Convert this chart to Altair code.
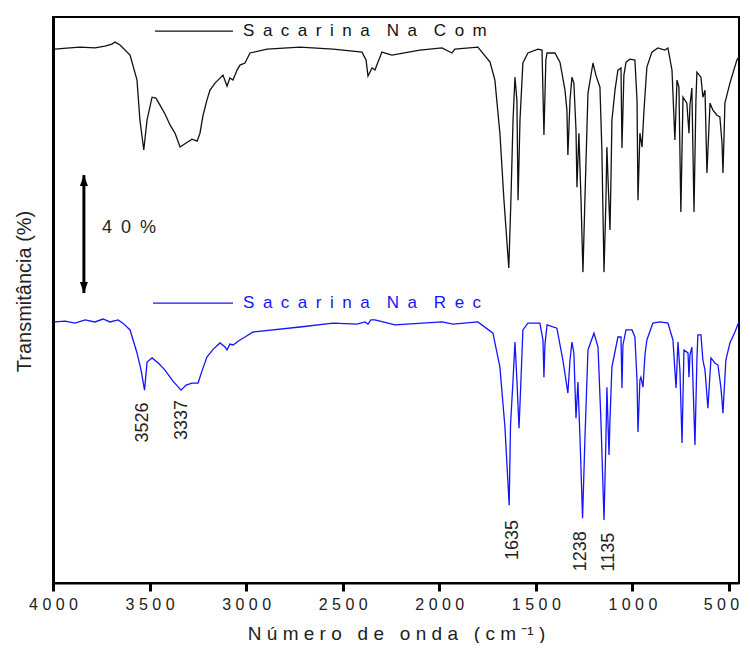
import altair as alt
import pandas as pd

# ---- Spectrum "Sacarina Na Com" (upper, black) : wavenumber (cm-1), offset transmittance (%)
com_wn = [3990, 3912, 3860, 3783, 3731, 3695, 3679, 3653, 3601, 3565, 3550, 3530, 3513, 3487,
          3467, 3446, 3420, 3394, 3368, 3342, 3311, 3280, 3254, 3239, 3223, 3203, 3187, 3161,
          3120, 3099, 3084, 3068, 3047,
          3032, 3006, 2980, 2892, 2721, 2550, 2400, 2379, 2369, 2348, 2333, 2297, 2245, 2100,
          1986, 1934, 1919, 1800, 1737, 1712, 1686, 1665, 1640, 1629, 1618, 1608, 1598, 1592,
          1582, 1567, 1541, 1489, 1468, 1458, 1448, 1442, 1401, 1375, 1349, 1339, 1334, 1323,
          1313, 1303, 1292, 1287, 1277, 1266, 1256, 1246, 1230, 1204, 1189, 1168, 1158, 1147,
          1137, 1132, 1126, 1116, 1111, 1106, 1090, 1075, 1059, 1054, 1044, 1033, 1013, 987,
          976, 971, 961, 950, 940, 925, 899, 868, 832, 816, 795, 780, 769, 759, 749, 738, 718,
          707, 702, 692, 681, 671, 666, 645, 635, 624, 614, 598, 583, 562, 547, 536, 531, 526,
          521, 495, 459, 449]
com_t = [181.0, 181.4, 181.7, 181.4, 182.0, 182.7, 183.4, 182.4, 179.0, 170.5, 157.0, 146.8,
         157.0, 164.7, 164.4, 162.0, 159.0, 155.3, 152.5, 147.8, 149.2, 150.5, 149.8, 152.5,
         158.6, 163.7, 167.1, 169.5, 172.2,
         168.5, 171.2, 170.5, 173.9, 175.6, 176.3, 179.7, 181.0, 181.7, 181.0, 180.0, 177.3,
         171.9, 174.6, 173.9, 180.0, 179.0, 180.7, 181.4, 179.7, 181.0, 181.7, 176.6, 170.5,
         152.5, 129.8, 106.8, 129.8, 157.0, 171.5, 163.7, 129.8, 157.0, 176.3, 179.7, 181.0,
         180.7, 151.9, 177.3, 179.7, 179.7, 176.6, 167.1, 160.3, 145.1, 163.7, 171.5, 169.5,
         153.6, 134.2, 152.5, 129.8, 105.4, 129.8, 166.1, 176.3, 172.2, 168.1, 146.8, 105.4,
         129.8, 147.8, 136.6, 119.7, 136.6, 157.0, 167.1, 173.9, 174.6, 147.5, 172.2, 176.6,
         177.6, 177.3, 163.7, 129.8, 152.5, 147.8, 160.3, 174.9, 180.0, 181.4, 180.7, 181.4,
         173.9, 150.2, 170.5, 168.1, 125.8, 164.7, 162.7, 152.5, 162.0, 167.8, 125.8, 163.7,
         173.2, 171.5, 164.7, 167.1, 139.0, 162.7, 160.3, 158.6, 158.0, 149.2, 139.0, 150.2,
         162.7, 169.5, 177.3, 178.3]

# ---- Spectrum "Sacarina Na Rec" (lower, blue)
rec_wn = [3990, 3938, 3886, 3834, 3783, 3741, 3705, 3663, 3638, 3601, 3565, 3544, 3526, 3513,
          3487, 3455, 3420, 3380, 3337, 3311, 3280, 3249, 3228, 3203, 3170, 3135, 3109, 3099,
          3084, 3068, 3032, 3006,
          2964, 2721, 2550, 2426, 2385, 2369, 2354, 2333, 2229, 1986, 1929, 1800, 1722, 1686,
          1660, 1638, 1631, 1618, 1608, 1598, 1587, 1577, 1567, 1541, 1479, 1463, 1458, 1453,
          1442, 1391, 1360, 1334, 1323, 1313, 1303, 1292, 1282, 1271, 1258, 1246, 1230, 1199,
          1178, 1163, 1147, 1137, 1132, 1121, 1116, 1106, 1075, 1059, 1054, 1049, 1033, 1002,
          987, 976, 971, 961, 956, 945, 935, 925, 894, 857, 816, 790, 774, 764, 754, 743, 733,
          712, 707, 702, 692, 676, 666, 661, 645, 635, 624, 609, 593, 573, 557, 542, 536, 531,
          526, 516, 495, 469, 449]
rec_t = [88.5, 88.8, 88.1, 89.2, 88.5, 89.5, 88.5, 89.2, 88.1, 85.8, 78.0, 72.2, 65.4, 74.9,
         76.3, 74.6, 72.2, 68.5, 65.4, 67.1, 67.8, 67.8, 72.0, 76.6, 79.3, 81.4, 80.0, 79.0,
         81.0, 80.7, 82.4, 83.4,
         85.1, 86.8, 88.1, 87.8, 88.5, 87.8, 89.2, 89.2, 87.5, 88.5, 87.8, 88.5, 84.7, 73.2,
         52.9, 26.4, 53.6, 68.8, 81.7, 68.8, 52.5, 68.8, 85.8, 88.1, 88.1, 82.4, 69.8, 80.7,
         87.5, 86.4, 75.6, 64.4, 75.6, 81.7, 78.0, 55.9, 68.1, 48.5, 22.0, 48.5, 79.0, 84.7,
         80.0, 55.3, 21.4, 48.5, 66.4, 43.4, 55.3, 73.2, 83.4, 83.4, 66.1, 80.7, 85.8, 85.8,
         83.4, 68.8, 51.2, 68.8, 69.8, 66.4, 77.3, 82.4, 88.1, 88.5, 88.1, 82.4, 66.1, 81.7,
         72.2, 47.5, 79.0, 78.0, 69.8, 77.3, 80.0, 46.8, 75.6, 84.1, 84.1, 75.6, 72.2, 59.3,
         76.3, 74.6, 73.9, 66.4, 62.0, 57.6, 63.7, 75.6, 81.4, 85.1, 88.5]

# ---- Peak annotations
peak_text = ["3526", "3337", "1635", "1238", "1135"]
peak_wn = [3534, 3332, 1618, 1265, 1121]
peak_t = [54.4, 55.3, 14.6, 10.8, 10.5]

# ---- In-plot legend
leg_names = ["Sacarina Na Com", "Sacarina Na Rec"]
leg_series = ["Com", "Rec"]
leg_t = [187.1, 94.9]
leg_wn_start = [3472, 3482]
leg_wn_end = [3068, 3068]
leg_text_wn = [3016, 3016]

# ---- 40 % scale arrow
arrow_wn = [3840]
arrow_lo = [98.3]
arrow_hi = [138.3]
arrow_label = ["40 %"]
arrow_label_wn = [3746]
arrow_label_t = [120.3]

x_ticks = [4000, 3500, 3000, 2500, 2000, 1500, 1000, 500]

FONT = "Liberation Sans"
NB = "\u00a0"
EN = "\u2002"


def spaced(s, gap, word_gap):
    return word_gap.join(gap.join(list(w)) for w in s.split(" "))


spectra = pd.concat([
    pd.DataFrame({"wn": com_wn, "T": com_t, "serie": "Com"}),
    pd.DataFrame({"wn": rec_wn, "T": rec_t, "serie": "Rec"}),
])
peaks = pd.DataFrame({"txt": peak_text, "wn": peak_wn, "T": peak_t})
legend = pd.DataFrame({
    "name": [spaced(n, EN, EN + EN) for n in leg_names],
    "serie": leg_series, "T": leg_t,
    "x1": leg_wn_start, "x2": leg_wn_end, "xt": leg_text_wn,
})
arrow = pd.DataFrame({"wn": arrow_wn, "lo": arrow_lo, "hi": arrow_hi,
                      "lab": [spaced(a, EN, EN) for a in arrow_label],
                      "lwn": arrow_label_wn, "lt": arrow_label_t})

xscale = alt.Scale(domain=[448, 4000], reverse=True, nice=False, zero=False)
yscale = alt.Scale(domain=[0, 191.9], nice=False, zero=False)
cscale = alt.Scale(domain=["Com", "Rec"], range=["#111111", "#1414ff"])

x_title = (NB.join(list("Número")) + NB * 3 + NB.join(list("de")) + NB * 3 +
           NB.join(list("onda")) + NB * 3 + NB.join(["(", "c", "m", "⁻¹", ")"]))

x_axis = alt.Axis(values=x_ticks, format="d",
                  labelExpr="join(split(datum.label, ''), '" + NB + "')",
                  labelFont=FONT, labelFontSize=16, labelColor="#222",
                  labelBaseline="middle", labelPadding=13, labelFlush=False,
                  labelOffset={"condition": {"test": "datum.value === 500", "value": -8},
                               "value": 0},
                  labelOverlap=False, tickSize=8, tickWidth=3, tickColor="#000",
                  domainColor="#000", domainWidth=2, grid=False,
                  title=x_title, titleFont=FONT, titleFontSize=19,
                  titleFontWeight="normal", titleColor="#222",
                  titleBaseline="middle", titleY=50)
y_axis = alt.Axis(labels=False, ticks=False, grid=False, domainColor="#000",
                  domainWidth=3, title="Transmitância (%)", titleFont=FONT,
                  titleFontSize=20, titleFontWeight="normal", titleColor="#222",
                  titleAngle=270, titleBaseline="middle", titleAlign="center",
                  titleX=-29, titleY=274)

lines = alt.Chart(spectra).mark_line(strokeWidth=1.3).encode(
    x=alt.X("wn:Q", scale=xscale, axis=x_axis),
    y=alt.Y("T:Q", scale=yscale, axis=y_axis),
    color=alt.Color("serie:N", scale=cscale, legend=None),
    order="wn:Q",
)

peak_labels = alt.Chart(peaks).mark_text(
    angle=270, font=FONT, fontSize=18, color="#222", align="center", baseline="middle"
).encode(x=alt.X("wn:Q", scale=xscale), y=alt.Y("T:Q", scale=yscale), text="txt:N")

leg_lines = alt.Chart(legend).mark_rule(strokeWidth=1.3).encode(
    x=alt.X("x1:Q", scale=xscale), x2="x2:Q", y=alt.Y("T:Q", scale=yscale),
    color=alt.Color("serie:N", scale=cscale, legend=None),
)
leg_text = alt.Chart(legend).mark_text(
    font=FONT, fontSize=17, align="left", baseline="middle"
).encode(
    x=alt.X("xt:Q", scale=xscale), y=alt.Y("T:Q", scale=yscale), text="name:N",
    color=alt.Color("serie:N", scale=cscale, legend=None),
)

arrow_shaft = alt.Chart(arrow).mark_rule(strokeWidth=3, color="#000").encode(
    x=alt.X("wn:Q", scale=xscale), y=alt.Y("lo:Q", scale=yscale), y2="hi:Q")
arrow_up = alt.Chart(arrow).mark_point(
    shape="M0,0L0.8,2.2L-0.8,2.2Z", filled=True, size=100, color="#000", opacity=1
).encode(x=alt.X("wn:Q", scale=xscale), y=alt.Y("hi:Q", scale=yscale))
arrow_down = alt.Chart(arrow).mark_point(
    shape="M0,0L0.8,-2.2L-0.8,-2.2Z", filled=True, size=100, color="#000", opacity=1
).encode(x=alt.X("wn:Q", scale=xscale), y=alt.Y("lo:Q", scale=yscale))
arrow_text = alt.Chart(arrow).mark_text(
    font=FONT, fontSize=18, color="#222", align="left", baseline="middle"
).encode(x=alt.X("lwn:Q", scale=xscale), y=alt.Y("lt:Q", scale=yscale), text="lab:N")

chart = alt.layer(
    lines, peak_labels, leg_lines, leg_text, arrow_shaft, arrow_up, arrow_down, arrow_text
).properties(
    width=686, height=566,
    autosize=alt.AutoSizeParams(type="none"),
    padding={"left": 45, "top": 9, "right": 3, "bottom": 60},
    background="white",
).configure_view(stroke="#000", strokeWidth=2)

chart.save("out.html", embed_options={"renderer": "svg", "actions": False})
